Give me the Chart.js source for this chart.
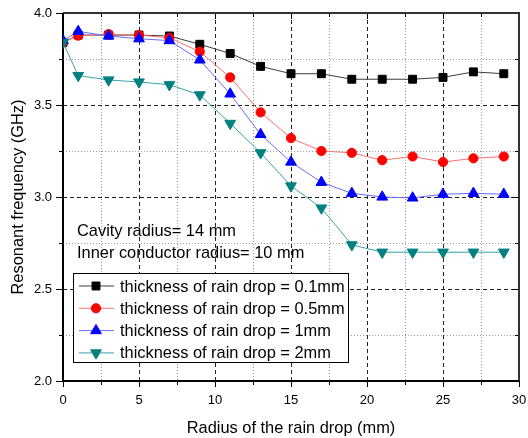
<!DOCTYPE html>
<html>
<head>
<meta charset="utf-8">
<script src="https://cdn.jsdelivr.net/npm/chart.js@4/dist/chart.umd.min.js"></script>
<style>
  html, body { margin: 0; padding: 0; background: #fff; }
  #wrap { width: 528px; height: 438px; }
</style>
</head>
<body>
<div id="wrap"><canvas id="myChart" width="528" height="438"></canvas></div>
<script>
"use strict";
// radius of the rain drop (mm)
const radius = [0, 1, 3, 5, 7, 9, 11, 13, 15, 17, 19, 21, 23, 25, 27, 29];
// resonant frequency (GHz) per drop thickness
const thick01 = [3.84, 3.88, 3.88, 3.88, 3.875, 3.83, 3.78, 3.71, 3.67, 3.67, 3.64, 3.64, 3.64, 3.65, 3.68, 3.67];
const thick05 = [3.84, 3.877, 3.885, 3.88, 3.865, 3.79, 3.65, 3.46, 3.32, 3.25, 3.24, 3.20, 3.22, 3.19, 3.21, 3.22];
const thick1 = [3.85, 3.90, 3.875, 3.86, 3.85, 3.745, 3.56, 3.34, 3.19, 3.08, 3.02, 3.00, 2.995, 3.015, 3.02, 3.015];
const thick2 = [3.84, 3.66, 3.636, 3.625, 3.61, 3.555, 3.40, 3.24, 3.06, 2.94, 2.74, 2.70, 2.70, 2.70, 2.70, 2.70];
const seriesLabels = [
  "thickness of rain drop = 0.1mm",
  "thickness of rain drop = 0.5mm",
  "thickness of rain drop = 1mm",
  "thickness of rain drop = 2mm",
];
const notes = ["Cavity radius= 14 mm", "Inner conductor radius= 10 mm"];

const FONT = "'Liberation Sans', Arial, sans-serif";

const toPoints = (ys) => radius.map((x, i) => ({ x, y: ys[i] }));

const isMajorX = (v) => Math.abs(v / 5 - Math.round(v / 5)) < 1e-9;
const isMajorY = (v) => Math.abs(v * 2 - Math.round(v * 2)) < 1e-9;

const makeSet = (label, ys, line, fill, style, r, rot, order) => ({
  label,
  data: toPoints(ys),
  borderColor: line,
  borderWidth: 1,
  backgroundColor: fill,
  pointBackgroundColor: fill,
  pointBorderColor: fill,
  pointBorderWidth: 1,
  pointStyle: style,
  pointRadius: r,
  pointRotation: rot,
  tension: 0,
  order,
});

// no label overflow padding, the plot box is fixed by layout.padding
const noPad = (s) => {
  s.paddingLeft = 0;
  s.paddingRight = 0;
  s.paddingTop = 0;
  s.paddingBottom = 0;
};

const frame = {
  id: "frame",
  beforeDatasetsDraw(chart) {
    const { ctx, chartArea: a, scales } = chart;
    ctx.save();
    ctx.strokeStyle = "#000";
    ctx.lineWidth = 1;
    // x ticks: outward at bottom, inward at top
    for (let v = 0; v <= 30; v += 2.5) {
      const px = Math.round(scales.x.getPixelForValue(v)) + 0.5;
      const len = isMajorX(v) ? 6 : 4;
      ctx.beginPath();
      ctx.moveTo(px, a.bottom);
      ctx.lineTo(px, a.bottom + len);
      ctx.moveTo(px, a.top);
      ctx.lineTo(px, a.top + len);
      ctx.stroke();
    }
    // y ticks: outward at left, inward at right
    for (let v = 2; v <= 4.0001; v += 0.25) {
      const py = Math.round(scales.y.getPixelForValue(v)) + 0.5;
      const len = isMajorY(v) ? 7 : 4;
      ctx.beginPath();
      ctx.moveTo(a.left, py);
      ctx.lineTo(a.left - len, py);
      ctx.moveTo(a.right, py);
      ctx.lineTo(a.right - len, py);
      ctx.stroke();
    }
    ctx.lineWidth = 2;
    ctx.strokeStyle = "#333";
    ctx.beginPath();
    ctx.moveTo(a.left, a.top);
    ctx.lineTo(a.right, a.top);
    ctx.lineTo(a.right, a.bottom);
    ctx.stroke();
    ctx.strokeStyle = "#000";
    ctx.beginPath();
    ctx.moveTo(a.left, a.top);
    ctx.lineTo(a.left, a.bottom);
    ctx.lineTo(a.right, a.bottom);
    ctx.stroke();
    ctx.restore();
  },
  afterDatasetsDraw(chart) {
    const { ctx } = chart;
    ctx.save();
    ctx.font = "16.4px " + FONT;
    ctx.fillStyle = "#000";
    ctx.textBaseline = "alphabetic";
    ctx.textAlign = "left";
    ctx.fillText(notes[0], 77, 236);
    ctx.fillText(notes[1], 77, 258);

    // legend box
    ctx.fillStyle = "#fff";
    ctx.fillRect(73, 273, 275, 89);
    ctx.strokeStyle = "#000";
    ctx.lineWidth = 1;
    ctx.strokeRect(73.5, 273.5, 275, 89);
    ctx.textBaseline = "middle";
    chart.data.datasets.forEach((ds, i) => {
      const y = 286 + i * 22.3;
      ctx.strokeStyle = ds.borderColor;
      ctx.lineWidth = 1;
      ctx.beginPath();
      ctx.moveTo(79, y);
      ctx.lineTo(114, y);
      ctx.stroke();
      ctx.fillStyle = ds.pointBackgroundColor;
      ctx.strokeStyle = ds.pointBorderColor;
      Chart.helpers.drawPoint(ctx, {
        pointStyle: ds.pointStyle,
        rotation: ds.pointRotation,
        radius: ds.pointRadius,
        borderWidth: 1,
      }, 96, y);
      ctx.fillStyle = "#000";
      ctx.fillText(ds.label, 120, y + 1);
    });
    ctx.restore();
  },
};

const createChart = () => {
  const ctx = document.getElementById("myChart").getContext("2d");
  return new Chart(ctx, {
    type: "line",
    data: {
      datasets: [
        makeSet(seriesLabels[0], thick01, "#3c3c3c", "#000000", "rect", 5.6, 0, 4),
        makeSet(seriesLabels[1], thick05, "#ff7070", "#ff0000", "circle", 4.6, 0, 3),
        makeSet(seriesLabels[2], thick1, "#6a6aff", "#0000ff", "triangle", 6.2, 0, 2),
        makeSet(seriesLabels[3], thick2, "#3aa3a3", "#008080", "triangle", 6.2, 180, 1),
      ],
    },
    options: {
      responsive: false,
      animation: false,
      devicePixelRatio: 1,
      layout: { padding: { top: 13, right: 9, left: 0, bottom: 0 } },
      plugins: {
        legend: { display: false },
        tooltip: { enabled: false },
      },
      scales: {
        x: {
          type: "linear",
          min: 0,
          max: 30,
          afterFit: (s) => { s.height = 57; noPad(s); },
          ticks: {
            stepSize: 2.5,
            autoSkip: false,
            maxRotation: 0,
            padding: 12,
            color: "#000",
            font: { family: FONT, size: 13 },
            callback: (v) => (isMajorX(v) ? String(v) : ""),
          },
          grid: {
            drawTicks: false,
            lineWidth: 1,
            color: (c) => {
              const v = c.tick ? c.tick.value : 0;
              if (v <= 0 || v >= 30) return "transparent";
              return isMajorX(v) ? "#222" : "#999";
            },
          },
          border: {
            display: false,
            dash: (c) => (c.tick ? (isMajorX(c.tick.value) ? [4, 3] : [1, 2]) : []),
          },
          title: {
            display: true,
            text: "Radius of the rain drop (mm)",
            color: "#000",
            font: { family: FONT, size: 16.4 },
            padding: { top: 0, bottom: 0 },
          },
        },
        y: {
          min: 2,
          max: 4,
          afterFit: (s) => { s.width = 63; noPad(s); },
          ticks: {
            stepSize: 0.25,
            autoSkip: false,
            padding: 11,
            color: "#000",
            font: { family: FONT, size: 13 },
            callback: (v) => (isMajorY(v) ? v.toFixed(1) : ""),
          },
          grid: {
            drawTicks: false,
            lineWidth: 1,
            color: (c) => {
              const v = c.tick ? c.tick.value : 2;
              if (v <= 2.0001 || v >= 3.9999) return "transparent";
              return isMajorY(v) ? "#222" : "#999";
            },
          },
          border: {
            display: false,
            dash: (c) => (c.tick ? (isMajorY(c.tick.value) ? [4, 3] : [1, 2]) : []),
          },
          title: {
            display: true,
            text: "Resonant frequency (GHz)",
            color: "#000",
            font: { family: FONT, size: 16.4 },
            padding: { top: 9, bottom: 0 },
          },
        },
      },
    },
    plugins: [frame],
  });
};

createChart();
</script>
</body>
</html>
